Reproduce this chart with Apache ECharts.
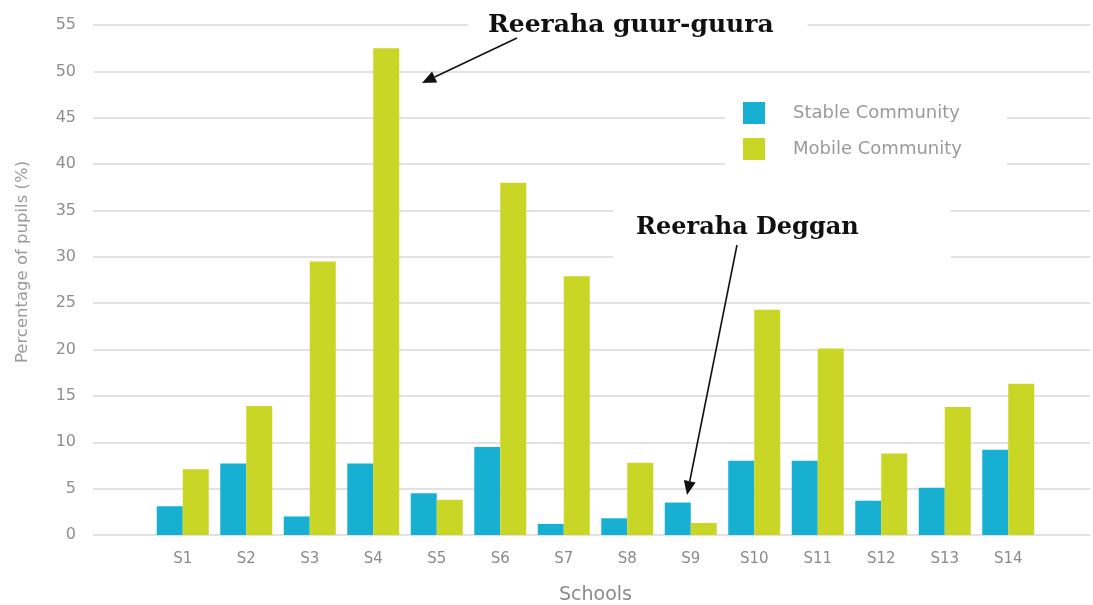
<!DOCTYPE html>
<html>
<head>
<meta charset="utf-8">
<script src="https://cdn.jsdelivr.net/npm/echarts@6/dist/echarts.min.js"></script>
<style>
  html, body { margin: 0; padding: 0; background: #fff; }
  #main { width: 1093px; height: 605px; }
</style>
</head>
<body>
<div id="main"></div>
<script>
// data
var schools = ['S1', 'S2', 'S3', 'S4', 'S5', 'S6', 'S7', 'S8', 'S9', 'S10', 'S11', 'S12', 'S13', 'S14'];
var stable = [3.1, 7.7, 2.0, 7.7, 4.5, 9.5, 1.2, 1.8, 3.5, 8.0, 8.0, 3.7, 5.1, 9.2];
var mobile = [7.1, 13.9, 29.5, 52.5, 3.8, 38.0, 27.9, 7.8, 1.3, 24.3, 20.1, 8.8, 13.8, 16.3];
var yTicks = [0, 55, 5]; // min, max, step

var sans = '"DejaVu Sans", sans-serif';
var serif = '"DejaVu Serif", serif';

// arrow = line + head, head points at tip
function arrow(x1, y1, x2, y2) {
    var dx = x2 - x1, dy = y2 - y1;
    var len = Math.sqrt(dx * dx + dy * dy);
    var ux = dx / len, uy = dy / len;
    var hl = 14, hw = 6;
    var bx = x2 - ux * hl, by = y2 - uy * hl;
    return [
        {
            type: 'line', z: 110,
            shape: {x1: x1, y1: y1, x2: bx, y2: by},
            style: {stroke: '#111', lineWidth: 1.6}
        },
        {
            type: 'polygon', z: 110,
            shape: {points: [[x2, y2], [bx - uy * hw, by + ux * hw], [bx + uy * hw, by - ux * hw]]},
            style: {fill: '#111'}
        }
    ];
}

var myChart = echarts.init(document.getElementById('main'));

var option = {
    animation: false,
    backgroundColor: '#fff',
    color: ['#17b0d3', '#c9d626'],
    // grid 0 = gridlines + y labels, grid 1 = the bars (narrower)
    grid: [
        {left: 93, right: 3, top: 25, bottom: 70, outerBoundsMode: 'none'},
        {left: 151, right: 53, top: 25, bottom: 70, outerBoundsMode: 'none'}
    ],
    legend: {
        orient: 'vertical',
        left: 725,
        top: 95,
        padding: [7, 45, 20, 18],
        backgroundColor: '#fff',
        z: 50,
        itemWidth: 22,
        itemHeight: 22,
        itemGap: 14,
        icon: 'rect',
        textStyle: {color: '#9a9a9a', fontSize: 18, fontFamily: sans, padding: [0, 0, 0, 23]},
        data: ['Stable Community', 'Mobile Community']
    },
    xAxis: [
        {type: 'value', gridIndex: 0, min: 0, max: 1, show: false},
        {
            type: 'category',
            gridIndex: 1,
            data: schools,
            axisLine: {show: false},
            axisTick: {show: false},
            axisLabel: {color: '#8a8a8a', fontSize: 15, fontFamily: sans, margin: 17},
            name: 'Schools',
            nameLocation: 'middle',
            nameGap: 51,
            nameTextStyle: {color: '#8a8a8a', fontSize: 19, fontFamily: sans}
        }
    ],
    yAxis: [
        {
            type: 'value',
            gridIndex: 0,
            min: yTicks[0],
            max: yTicks[1],
            interval: yTicks[2],
            axisLine: {show: false},
            axisTick: {show: false},
            axisLabel: {color: '#8e8e8e', fontSize: 16, fontFamily: sans, margin: 17},
            splitLine: {lineStyle: {color: '#e2e2e2', width: 2}},
            name: 'Percentage of pupils (%)',
            nameLocation: 'middle',
            nameGap: 62,
            nameTextStyle: {color: '#9a9a9a', fontSize: 16.5, fontFamily: sans, padding: [0, 0, 0, 36]}
        },
        {type: 'value', gridIndex: 1, min: yTicks[0], max: yTicks[1], show: false}
    ],
    series: [
        {
            name: 'Stable Community',
            type: 'bar',
            xAxisIndex: 1,
            yAxisIndex: 1,
            barWidth: 26,
            barGap: '0%',
            data: stable
        },
        {
            name: 'Mobile Community',
            type: 'bar',
            xAxisIndex: 1,
            yAxisIndex: 1,
            barWidth: 26,
            barGap: '0%',
            data: mobile
        }
    ],
    graphic: [
        {
            type: 'text', z: 100,
            left: 468, top: 9,
            style: {
                text: 'Reeraha guur-guura',
                font: 'bold 25px ' + serif,
                fill: '#111',
                backgroundColor: '#fff',
                padding: [4, 34, 4, 20]
            }
        },
        {
            type: 'text', z: 100,
            left: 613, top: 198,
            style: {
                text: 'Reeraha Deggan',
                font: 'bold 24px ' + serif,
                fill: '#111',
                backgroundColor: '#fff',
                padding: [18, 92, 20, 23]
            }
        }
    ].concat(arrow(517, 38, 422, 83), arrow(737, 245, 687, 495))
};

myChart.setOption(option);
</script>
</body>
</html>
